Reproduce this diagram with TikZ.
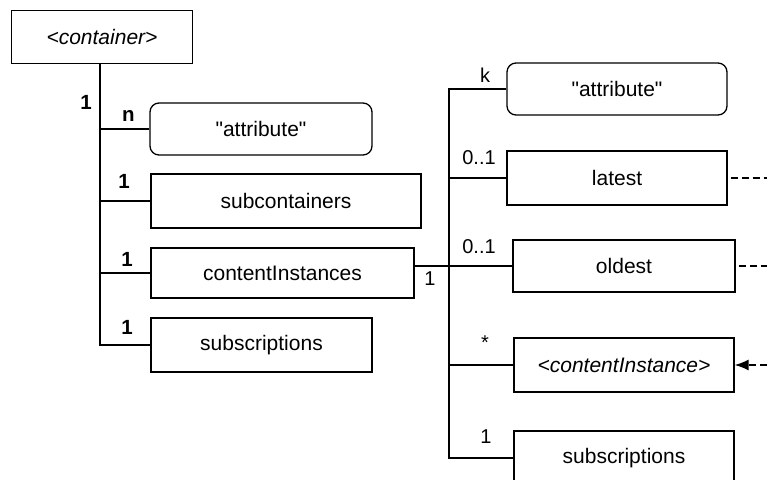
\documentclass[tikz,border=0pt]{standalone}
\usepackage{fontspec}
\setmainfont{Liberation Sans}[Ligatures=TeXOff]
\usetikzlibrary{arrows.meta}
\begin{document}
\begin{tikzpicture}[x=1pt,y=-1pt,
  box/.style={draw,line width=1.3pt,inner sep=0pt,font=\fontsize{21}{25}\selectfont},
  rbox/.style={box,rounded corners=9pt},
  conn/.style={line width=1.4pt},
  dconn/.style={conn,dash pattern=on 7pt off 4pt},
  blab/.style={font=\fontsize{20.5}{24}\selectfont\bfseries,inner sep=0pt},
  lab/.style={font=\fontsize{20}{24}\selectfont,inner sep=0pt}]
\useasboundingbox (0,0) rectangle (767,479);
\clip (0,0) rectangle (767,479);
% left column
\node[box,minimum width=181pt,minimum height=53pt] (container) at (102,37) {\itshape <container>};
\node[rbox,minimum width=222pt,minimum height=52pt] (attr1) at (261,129) {"attribute"};
\node[box,minimum width=270pt,minimum height=54pt] (subc) at (286,201) {subcontainers};
\node[box,minimum width=263pt,minimum height=50pt] (cis) at (282.5,273) {contentInstances};
\node[box,minimum width=221pt,minimum height=54pt] (subs1) at (261.5,345) {subscriptions};
% right column
\node[rbox,minimum width=220pt,minimum height=52pt] (attr2) at (617,89) {"attribute"};
\node[box,minimum width=220pt,minimum height=54pt] (latest) at (617,178) {latest};
\node[box,minimum width=222pt,minimum height=52pt] (oldest) at (624,266) {oldest};
\node[box,minimum width=220pt,minimum height=54pt] (ci) at (624,365) {\itshape <contentInstance>};
\node[box,minimum width=220pt,minimum height=54pt] (subs2) at (624,458) {subscriptions};
% coordinates
\coordinate (v1) at (100,64);
\coordinate (v2) at (449,89);
\coordinate (re) at (767,0);
% left tree
\draw[conn] (v1) |- (subs1.west);
\draw[conn] (attr1.west) -- (attr1.west -| v1);
\draw[conn] (subc.west) -- (subc.west -| v1);
\draw[conn] (cis.west) -- (cis.west -| v1);
% right tree
\draw[conn] (attr2.west) -- (v2) |- (subs2.west);
\draw[conn] (latest.west) -- (latest.west -| v2);
\draw[conn] (cis.east |- oldest.west) -- (oldest.west);
\draw[conn] (ci.west) -- (ci.west -| v2);
% dashed links
\draw[dconn] (latest.east) ++(3pt,0) -- (latest.east -| re);
\draw[dconn] (oldest.east) ++(3pt,0) -- (oldest.east -| re);
\draw[dconn,-{Latex[length=14pt,width=11pt]}] (ci.east -| re) -- (ci.east);
% labels
\node[blab] (l0) at (86,102) {1};
\node[blab] (l1) at (128.5,116) {n};
\node[blab] (l2) at (124,181) {1};
\node[blab] (l3) at (127,259) {1};
\node[blab] (l4) at (127,327) {1};
\node[lab] (r0) at (430,279) {1};
\node[lab] (r1) at (485,75) {k};
\node[lab] (r2) at (479,157.5) {0..1};
\node[lab] (r3) at (479,247) {0..1};
\node[lab] (r4) at (485,343) {*};
\node[lab] (r5) at (486,437) {1};
\end{tikzpicture}
\end{document}
